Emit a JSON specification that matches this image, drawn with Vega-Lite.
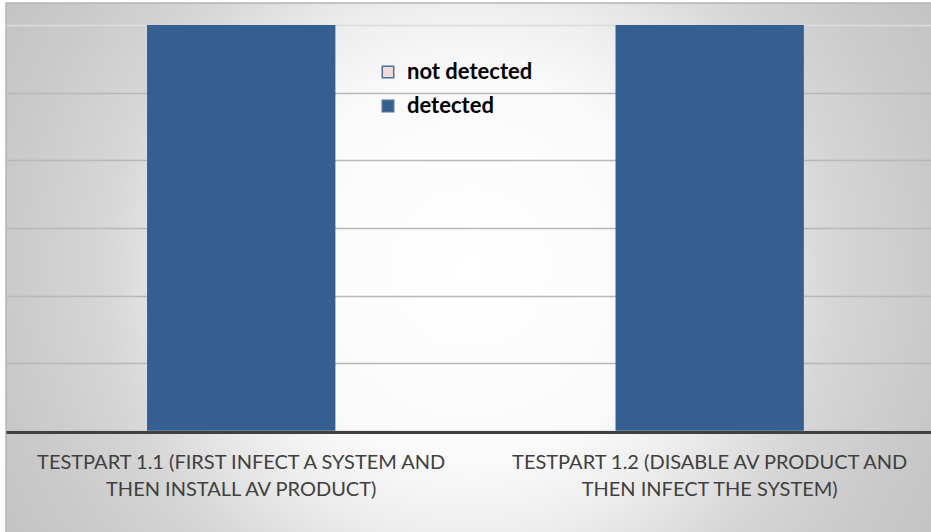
{
  "$schema": "https://vega.github.io/schema/vega-lite/v6.json",
  "width": 926,
  "height": 530,
  "autosize": {"type": "none"},
  "padding": {"left": 6, "top": 3, "right": -1, "bottom": -1},
  "background": "#ffffff",
  "config": {
    "view": {
      "stroke": "#b4b4b4",
      "strokeWidth": 1.5,
      "fill": {
        "gradient": "radial",
        "x1": 0.5, "y1": 0.5, "r1": 0,
        "x2": 0.5, "y2": 0.5, "r2": 0.6,
        "stops": [
          {"offset": 0, "color": "#ffffff"},
          {"offset": 0.35, "color": "#fafafa"},
          {"offset": 0.48, "color": "#eeeeee"},
          {"offset": 0.66, "color": "#d6d6d6"},
          {"offset": 0.83, "color": "#cacaca"},
          {"offset": 1, "color": "#c2c2c2"}
        ]
      }
    }
  },
  "data": {
    "values": [
      {"test": "TESTPART 1.1 (FIRST INFECT A SYSTEM AND THEN INSTALL AV PRODUCT)", "result": "detected", "count": 6},
      {"test": "TESTPART 1.1 (FIRST INFECT A SYSTEM AND THEN INSTALL AV PRODUCT)", "result": "not detected", "count": 0},
      {"test": "TESTPART 1.2 (DISABLE AV PRODUCT AND THEN INFECT THE SYSTEM)", "result": "detected", "count": 6},
      {"test": "TESTPART 1.2 (DISABLE AV PRODUCT AND THEN INFECT THE SYSTEM)", "result": "not detected", "count": 0}
    ]
  },
  "mark": {"type": "bar", "strokeWidth": 0},
  "encoding": {
    "x": {
      "field": "test",
      "type": "nominal",
      "sort": null,
      "scale": {"paddingInner": 0.598, "paddingOuter": 0.2873, "align": 0.524},
      "axis": {
        "title": null,
        "orient": "bottom",
        "offset": -101,
        "domainColor": "#404040",
        "domainWidth": 3,
        "ticks": false,
        "labelAngle": 0,
        "labelLimit": 0,
        "labelFont": "Lato",
        "labelFontSize": 20,
        "labelColor": "#404040",
        "labelLineHeight": 27,
        "labelPadding": 20,
        "labelBaseline": "top",
        "labelExpr": "[slice(datum.label, 0, indexof(datum.label, ' THEN')), slice(datum.label, indexof(datum.label, ' THEN') + 1)]"
      }
    },
    "y": {
      "field": "count",
      "type": "quantitative",
      "stack": "zero",
      "scale": {"domain": [-1.5111, 6.3259], "nice": false, "zero": false},
      "axis": {
        "title": null,
        "domain": false,
        "labels": false,
        "ticks": false,
        "grid": true,
        "values": [0, 1, 2, 3, 4, 5, 6],
        "gridColor": {"condition": {"test": "datum.value == 6", "value": "#dcdcdc"}, "value": "#b8b8b8"},
        "gridWidth": 1.5
      }
    },
    "color": {
      "field": "result",
      "type": "nominal",
      "scale": {"domain": ["not detected", "detected"], "range": ["#f2dcdb", "#365f91"]},
      "legend": {
        "title": null,
        "orient": "none",
        "legendX": 371,
        "legendY": 58,
        "symbolType": "square",
        "symbolSize": 130,
        "symbolStrokeColor": "#4a6f9c",
        "symbolStrokeWidth": 1.5,
        "symbolOpacity": 1,
        "labelFont": "Lato",
        "labelFontSize": 22,
        "labelFontWeight": "bold",
        "labelColor": "#000000",
        "labelOffset": 8,
        "rowPadding": 12
      }
    },
    "order": {"field": "result", "sort": "ascending"}
  }
}
